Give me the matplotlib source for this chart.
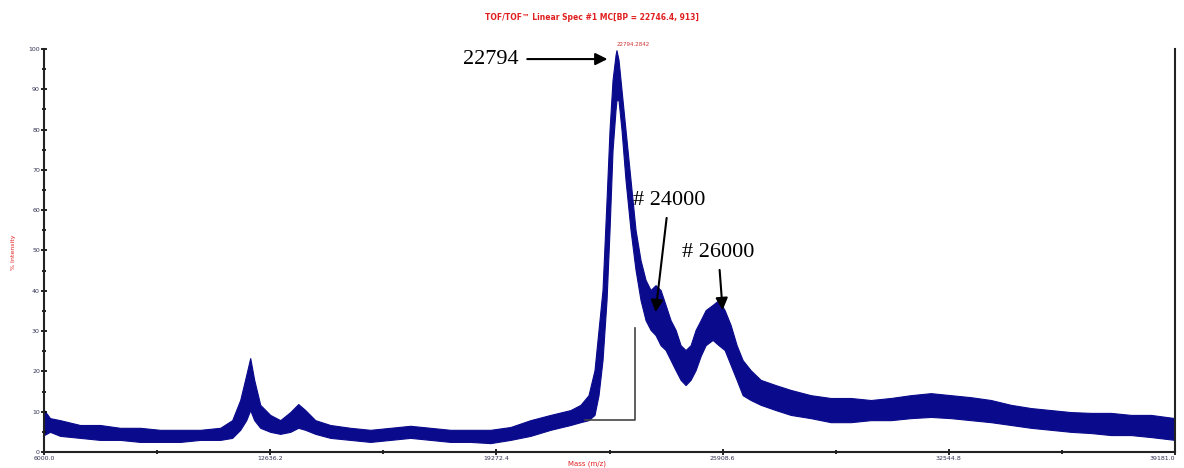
import numpy as np
import matplotlib
matplotlib.use("Agg")
import matplotlib.pyplot as plt
from matplotlib.ticker import MultipleLocator, FixedLocator

mz = [6000, 6176, 6470, 7057, 7644, 8232, 8819, 9406, 9994, 10581,
      11168, 11520, 11755, 11932, 12049, 12166, 12343, 12636, 12930, 13224,
      13458, 13664, 13958, 14398, 14985, 15573, 16160, 16747, 17335, 17922,
      18509, 19096, 19684, 20271, 20858, 21445, 21739, 21974, 22150, 22268,
      22385, 22503, 22591, 22679, 22767, 22794, 22855, 22943, 23060, 23207,
      23354, 23501, 23648, 23795, 23941, 24088, 24235, 24382, 24529, 24676,
      24822, 24969, 25116, 25263, 25410, 25615, 25791, 25968, 26144, 26320,
      26496, 26731, 27025, 27465, 27906, 28493, 29080, 29667, 30255, 30842,
      31429, 32017, 32604, 33191, 33778, 34366, 34953, 35540, 36127, 36715,
      37302, 37889, 38477, 39181]

upper = [10.4, 8.4, 7.9, 6.7, 6.7, 6.0, 6.0, 5.5, 5.5, 5.5,
         6.0, 7.9, 12.9, 19.1, 23.3, 17.9, 11.7, 9.2, 7.9, 9.9,
         11.9, 10.4, 7.9, 6.7, 6.0, 5.5, 6.0, 6.5, 6.0, 5.5,
         5.5, 5.5, 6.2, 7.9, 9.2, 10.4, 11.7, 14.1, 20.3, 30.3,
         40.2, 62.5, 79.9, 92.3, 98.5, 99.7, 97.3, 89.8, 79.9, 67.5,
         55.1, 47.6, 42.7, 40.2, 41.4, 40.2, 36.5, 32.7, 30.3, 26.5,
         25.3, 26.5, 30.3, 32.7, 35.2, 36.5, 37.7, 35.2, 31.5, 26.5,
         22.8, 20.3, 17.9, 16.6, 15.4, 14.1, 13.4, 13.4, 12.9, 13.4,
         14.1, 14.6, 14.1, 13.6, 12.9, 11.7, 10.9, 10.4, 9.9, 9.7,
         9.7, 9.2, 9.2, 8.4]

lower = [4.2, 5.0, 4.0, 3.5, 3.0, 3.0, 2.5, 2.5, 2.5, 3.0,
         3.0, 3.5, 5.5, 7.9, 10.4, 7.9, 6.0, 5.0, 4.5, 5.0,
         6.0, 5.5, 4.5, 3.5, 3.0, 2.5, 3.0, 3.5, 3.0, 2.5,
         2.5, 2.2, 3.0, 4.0, 5.5, 6.7, 7.4, 7.9, 9.2, 14.1,
         22.8, 37.7, 55.1, 74.9, 84.9, 87.3, 87.3, 79.9, 67.5, 55.1,
         45.2, 37.7, 32.7, 30.3, 29.0, 26.5, 25.3, 22.8, 20.3, 17.9,
         16.6, 17.9, 20.3, 23.8, 26.5, 27.8, 26.5, 25.3, 21.6, 17.9,
         14.1, 12.9, 11.7, 10.4, 9.2, 8.4, 7.4, 7.4, 7.9, 7.9,
         8.4, 8.7, 8.4, 7.9, 7.4, 6.7, 6.0, 5.5, 5.0, 4.7,
         4.2, 4.2, 3.7, 3.0]

xticks = [6000.0, 12636.2, 19272.4, 25908.6, 32544.8, 39181.0]
xticklabels = ["6000.0", "12636.2", "19272.4", "25908.6", "32544.8", "39181.0"]
xminor = [9318.1, 15954.3, 22590.5, 29226.7, 35862.9]
yticks = [0, 10, 20, 30, 40, 50, 60, 70, 80, 90, 100]

# anotaciones: (texto, posicion del texto, punta de la flecha)
peak_mz = 22794
anotaciones = [
    ("22794", (18300, 97.5), (22530, 97.5)),
    ("# 24000", (23266, 62.5), (23941, 34.7)),
    ("# 26000", (24720, 49.6), (25909, 35.2)),
]

# =========================
# === PLOT ===
# =========================
fig = plt.figure(figsize=(11.84, 4.68), dpi=100)
ax = fig.add_axes([0.0372, 0.0342, 0.9552, 0.8611])

navy = "#0a0a8c"
ax.fill_between(mz, lower, upper, color=navy, linewidth=0.8, edgecolor=navy)

# marca de resolucion (escalon gris)
ax.plot([21857, 23325, 23325], [7.9, 7.9, 30.8], color="#444444", linewidth=1.2)

for texto, xy_txt, xy_flecha in anotaciones:
    ax.annotate(texto, xy=xy_flecha, xytext=xy_txt,
                fontsize=16, family="Liberation Serif",
                ha="left", va="center",
                arrowprops=dict(arrowstyle="-|>", color="black", lw=1.5,
                                mutation_scale=18, shrinkA=4, shrinkB=0))

ax.text(peak_mz, 100.5, "22794.2842", color="#d03030", fontsize=4,
        ha="left", va="bottom")

ax.set_xlim(6000, 39181)
ax.set_ylim(0, 100)
ax.set_xticks(xticks)
ax.set_xticklabels(xticklabels, fontsize=4.5, color="#333355")
ax.get_xticklabels()[-1].set_ha("right")
ax.xaxis.set_minor_locator(FixedLocator(xminor))
ax.set_yticks(yticks)
ax.set_yticklabels([str(v) for v in yticks], fontsize=4.5, color="#333355")
ax.yaxis.set_minor_locator(MultipleLocator(5))
ax.tick_params(axis="both", which="major", length=4, width=1.2, direction="inout")
ax.tick_params(axis="both", which="minor", length=3, width=1.2, direction="inout")
ax.tick_params(axis="x", pad=1)
ax.tick_params(axis="y", pad=1)

ax.spines["top"].set_visible(False)
for s in ("left", "bottom", "right"):
    ax.spines[s].set_linewidth(1.5)
    ax.spines[s].set_color("#222222")

fig.text(0.5, 0.962, "TOF/TOF\u2122 Linear Spec #1 MC[BP = 22746.4, 913]",
         color="#e02020", fontsize=5.5, fontweight="bold", ha="center", va="center")
fig.text(0.011, 0.46, "% Intensity", color="#e02020", fontsize=4.5,
         rotation=90, ha="center", va="center")
fig.text(0.48, 0.002, "Mass (m/z)", color="#e02020", fontsize=5,
         ha="left", va="bottom")

fig.savefig("out.png", dpi=100)
